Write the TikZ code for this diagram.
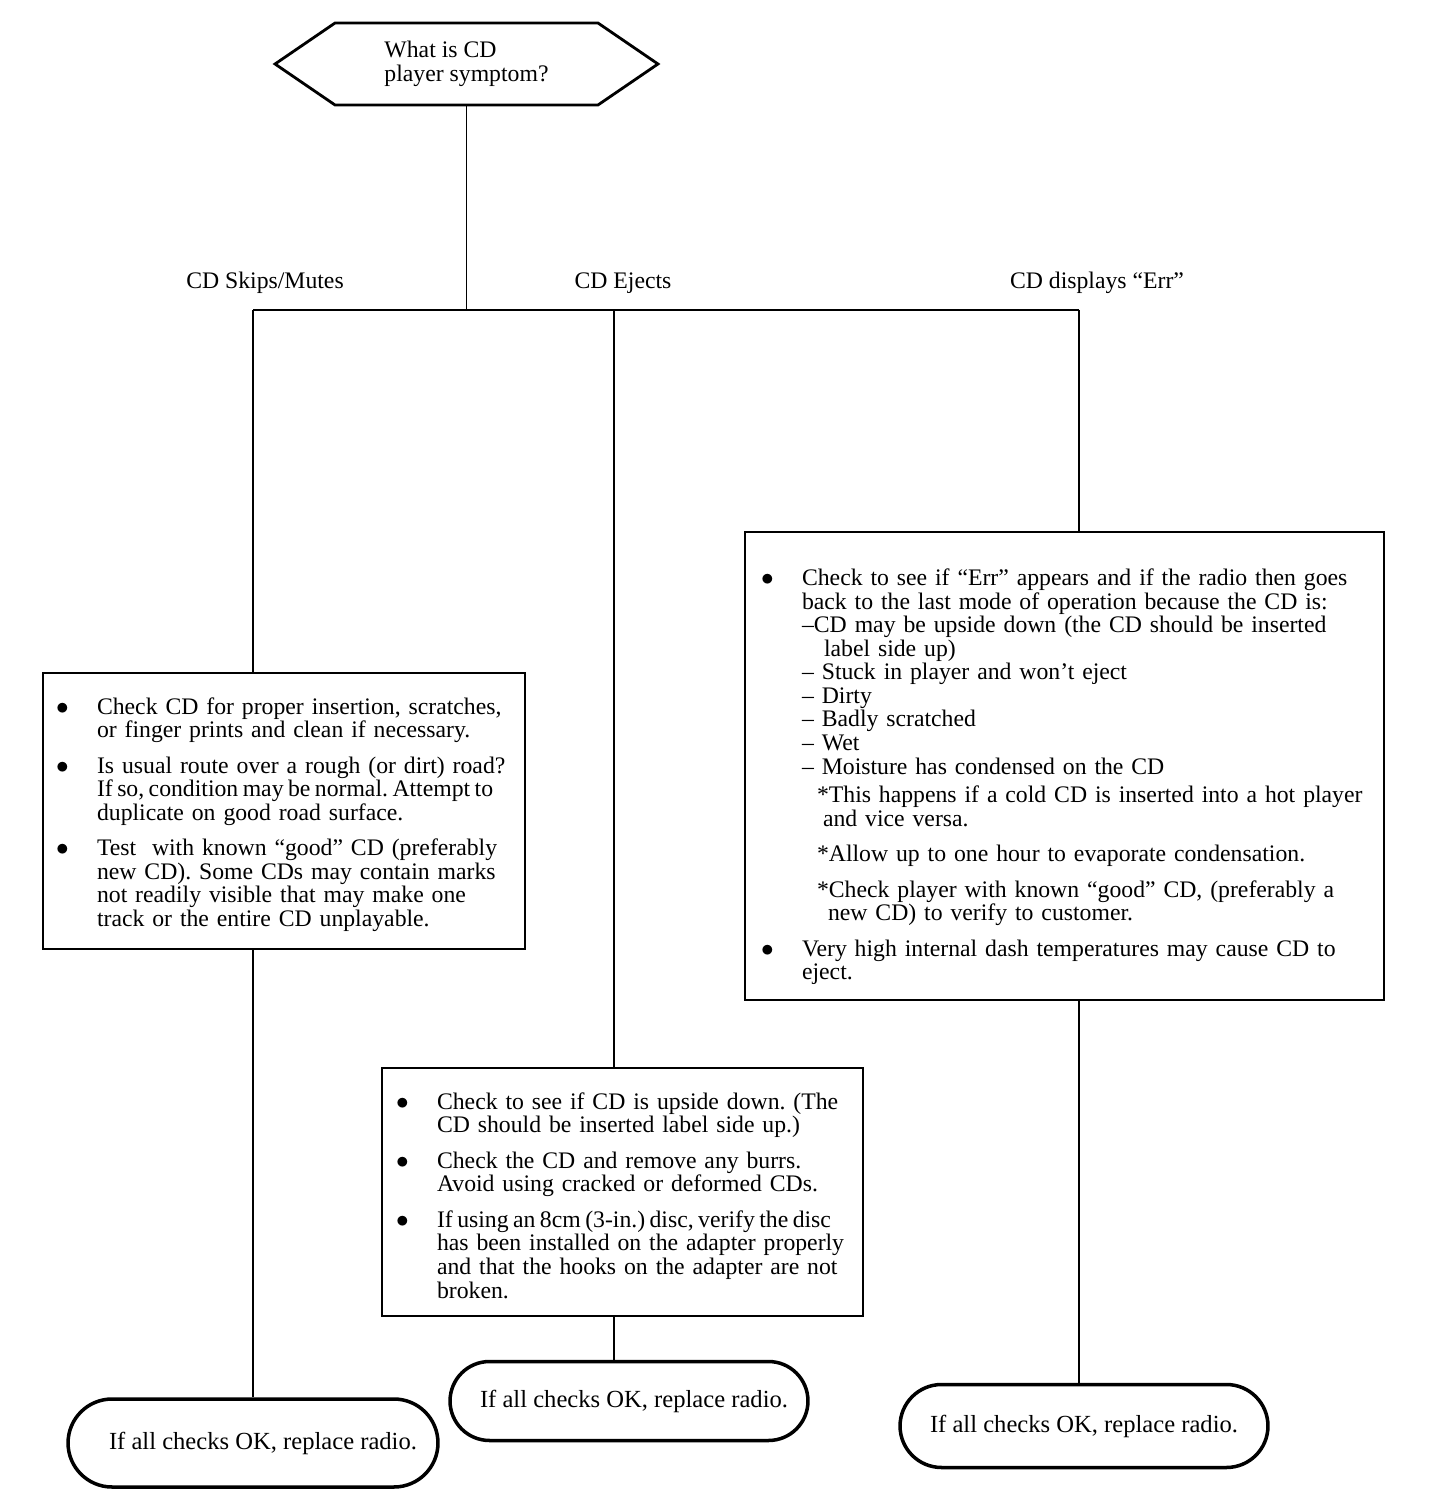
\documentclass[tikz,border=0pt]{standalone}
\usepackage{fontspec}
\setmainfont{Liberation Serif}
\usetikzlibrary{positioning,shapes.symbols,shapes.misc}

\makeatletter
\let\nl\@normalcr
\makeatother
\frenchspacing
\newcommand{\bul}{\makebox[0.78cm][l]{\hspace{-0.04cm}$\bullet$}}
\newcommand{\bitem}[1]{\par\hangindent=0.78cm\hangafter=1\noindent\bul#1\par}
\newcommand{\tightline}[1]{\mbox{\spaceskip=0.75\fontdimen2\font plus 0pt minus 0pt #1}}

\begin{document}
\begin{tikzpicture}[x=0.02cm,y=-0.02cm, font=\fontsize{13.5}{13.4}\selectfont]
    \tikzstyle{link}=[line width=1pt]
    \tikzstyle{question}=[draw, line width=1.6pt, signal, signal to=west and east,
        signal pointer angle=68.7, align=left]
    \tikzstyle{checkbox}=[draw, line width=1.6pt, rectangle, align=left, inner ysep=0pt]
    \tikzstyle{endbox}=[draw, line width=2pt, rounded rectangle, inner sep=0pt,
        font=\fontsize{14}{16}\selectfont]
    \tikzstyle{branch}=[inner sep=0pt]

    \useasboundingbox (0,0) rectangle (1440,1510);

    % Draw the symptom question
    \node[question, minimum width=7.66cm, minimum height=1.64cm] (symptom) at (466.5,64)
        {What is CD\\player symptom?};

    % Draw the branch points and labels
    \foreach \name / \x in {skip/253,eject/614,err/1079}
        \coordinate (bus-\name) at (\x,310);
    \foreach \name / \x / \text in {skip/265/{CD Skips/Mutes},eject/623/{CD Ejects},err/1097/{CD displays “Err”}}
        \node[branch] (lbl-\name) at (\x,283) {\text};

    % Draw the check boxes
    \node[checkbox, minimum width=9.64cm, minimum height=5.52cm, text width=9.04cm,
        inner xsep=0.3cm] (skipbox) at (284,811) {%
        \bitem{Check CD for proper insertion, scratches,\nl or finger prints and clean if necessary.}
        \vspace{0.24cm}
        \bitem{Is usual route over a rough (or dirt) road?\nl \tightline{If so, condition may be normal. Attempt to}\nl duplicate on good road surface.}
        \vspace{0.24cm}
        \bitem{Test~ with known “good” CD (preferably\nl new CD). Some CDs may contain marks\nl not readily visible that may make one\nl track or the entire CD unplayable.}};

    \node[checkbox, minimum width=9.62cm, minimum height=4.96cm, text width=8.98cm,
        inner xsep=0.32cm] (ejectbox) at (622.5,1192) {%
        \bitem{Check to see if CD is upside down. (The\nl CD should be inserted label side up.)}
        \vspace{0.24cm}
        \bitem{Check the CD and remove any burrs.\nl Avoid using cracked or deformed CDs.}
        \vspace{0.24cm}
        \bitem{\tightline{If using an 8cm (3-in.) disc, verify the disc}\nl has been installed on the adapter properly\nl and that the hooks on the adapter are not\nl broken.}};

    \node[checkbox, minimum width=12.78cm, minimum height=9.36cm, text width=12.06cm,
        inner xsep=0.36cm] (errbox) at (1064.5,766) {%
        \vspace*{0.3cm}
        \bitem{Check to see if “Err” appears and if the radio then goes\nl back to the last mode of operation because the CD is:\nl –CD may be upside down (the CD should be inserted\nl \hspace*{0.44cm}label side up)\nl – Stuck in player and won’t eject\nl – Dirty\nl – Badly scratched\nl – Wet\nl – Moisture has condensed on the CD\nl[0.1cm]\hspace*{0.3cm}*This happens if a cold CD is inserted into a hot player\nl \hspace*{0.42cm}and vice versa.\nl[0.24cm]\hspace*{0.3cm}*Allow up to one hour to evaporate condensation.\nl[0.24cm]\hspace*{0.3cm}*Check player with known “good” CD, (preferably a\nl \hspace*{0.52cm}new CD) to verify to customer.}
        \vspace{0.24cm}
        \bitem{Very high internal dash temperatures may cause CD to\nl eject.}};

    % Draw the end boxes
    \node[endbox, minimum width=7.4cm, minimum height=1.76cm] (skipend) at (253,1443)
        {\hspace{0.4cm}If all checks OK, replace radio.};
    \node[endbox, minimum width=7.16cm, minimum height=1.58cm] (ejectend) at (629,1401)
        {\hspace{0.2cm}If all checks OK, replace radio.};
    \node[endbox, minimum width=7.36cm, minimum height=1.66cm] (errend) at (1084,1426)
        {If all checks OK, replace radio.};

    % Connect the question with the branches
    \draw[link] (symptom.south) -- (symptom.south |- bus-skip);
    \draw[link] (bus-skip) -- (bus-err);

    % Connect every branch with its check box and end box
    \foreach \name in {skip,eject,err} {
        \draw[link] (bus-\name) -- (\name box.north -| bus-\name);
        \draw[link] (\name box.south -| bus-\name) -- (\name end.north -| bus-\name);
    }
\end{tikzpicture}
\end{document}
